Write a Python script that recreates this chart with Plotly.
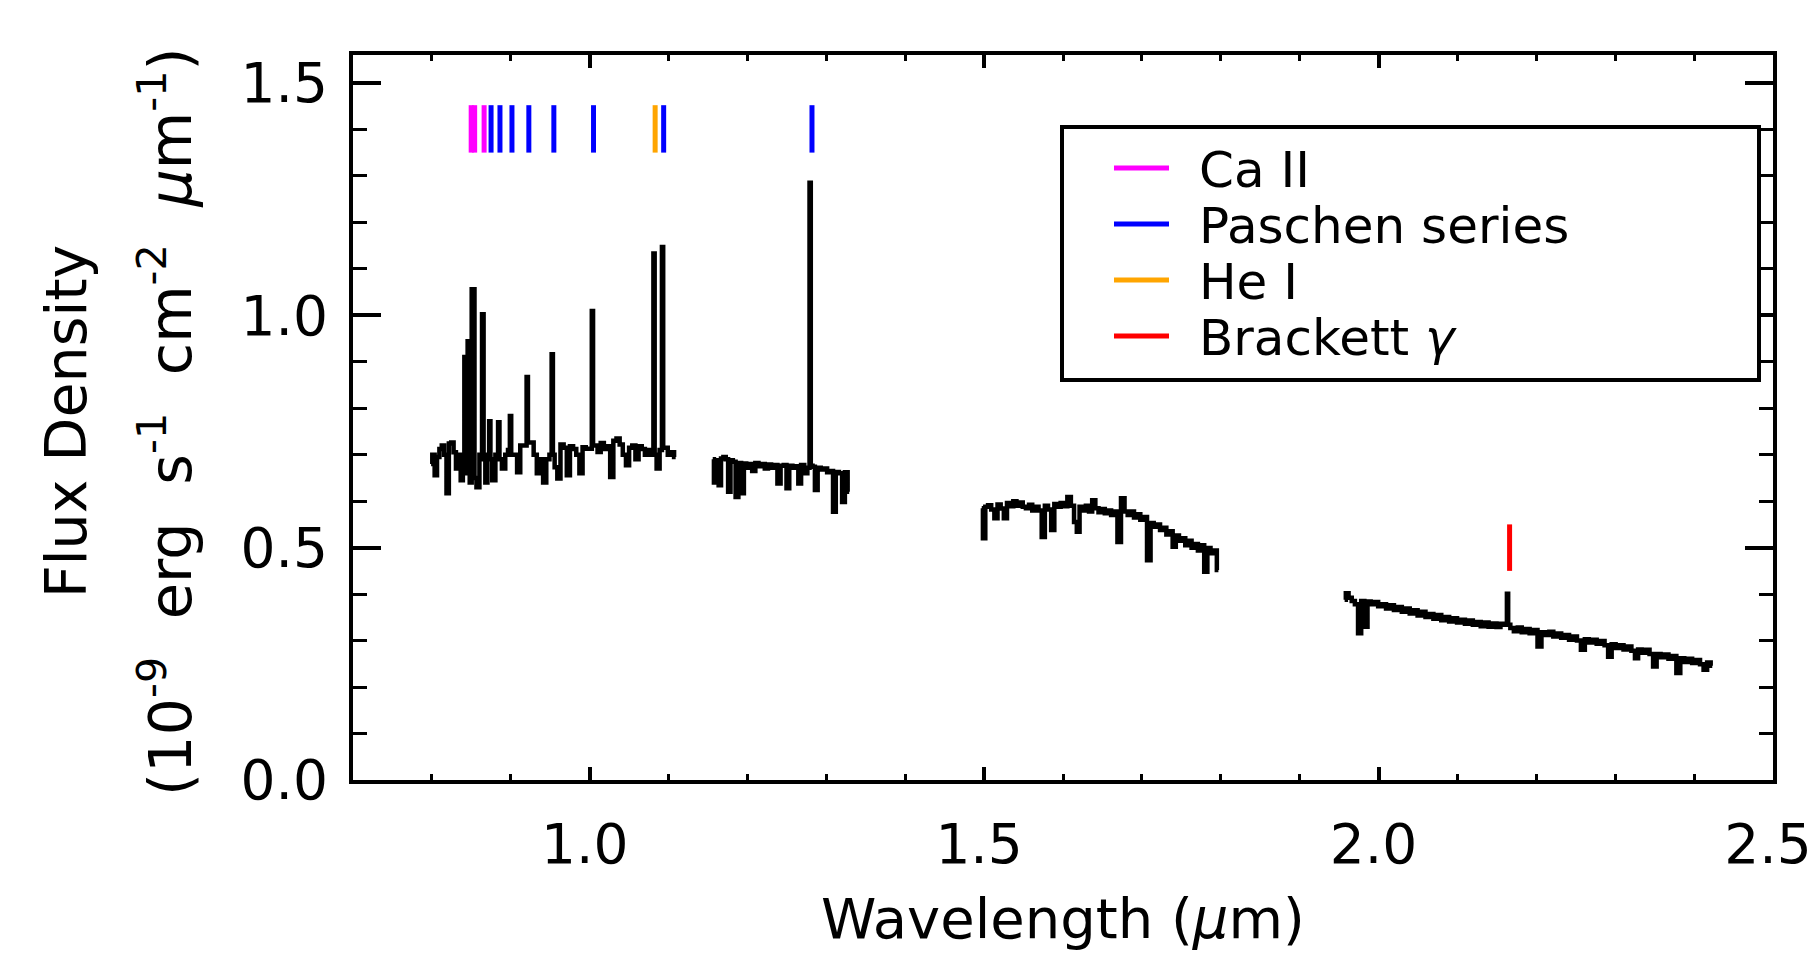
import plotly.graph_objects as go

# ---------------- data ----------------
# Spectrum segment 1 (0.80-1.11 um)
seg1_wl = [0.799, 0.802, 0.805, 0.808, 0.811, 0.814, 0.817, 0.820, 0.823, 0.826,
           0.829, 0.832, 0.835, 0.838, 0.8405, 0.8418, 0.8441, 0.8465, 0.8494, 0.8515,
           0.8530, 0.8550, 0.858, 0.8625, 0.8646, 0.8665, 0.869, 0.8718, 0.8734, 0.8750,
           0.878, 0.8830, 0.8848, 0.8865, 0.891, 0.895, 0.8980, 0.8997, 0.9014, 0.906,
           0.910, 0.914, 0.9192, 0.9209, 0.9226, 0.927, 0.931, 0.935, 0.939, 0.943,
           0.947, 0.9510, 0.9526, 0.9542, 0.957, 0.961, 0.965, 0.969, 0.973, 0.977,
           0.981, 0.985, 0.989, 0.993, 0.997, 1.0019, 1.0035, 1.0051, 1.008, 1.012,
           1.016, 1.020, 1.024, 1.028, 1.032, 1.036, 1.040, 1.044, 1.048, 1.052,
           1.056, 1.060, 1.064, 1.068, 1.072, 1.076, 1.0800, 1.0816, 1.0832, 1.0865,
           1.0908, 1.0924, 1.0940, 1.097, 1.101, 1.105, 1.109]
seg1_flux = [0.680, 0.700, 0.656, 0.695, 0.712, 0.720, 0.700, 0.617, 0.724, 0.726,
             0.705, 0.670, 0.700, 0.645, 0.680, 0.910, 0.660, 0.944, 0.640, 1.056,
             1.056, 0.650, 0.630, 0.700, 1.002, 0.690, 0.640, 0.700, 0.772, 0.690,
             0.645, 0.700, 0.770, 0.690, 0.670, 0.700, 0.710, 0.783, 0.700, 0.700,
             0.662, 0.720, 0.720, 0.867, 0.726, 0.726, 0.700, 0.660, 0.690, 0.640,
             0.690, 0.700, 0.916, 0.700, 0.673, 0.649, 0.722, 0.715, 0.656, 0.718,
             0.712, 0.700, 0.660, 0.716, 0.713, 0.713, 1.009, 0.720, 0.720, 0.706,
             0.725, 0.712, 0.718, 0.652, 0.730, 0.735, 0.722, 0.700, 0.677, 0.715,
             0.720, 0.690, 0.718, 0.712, 0.700, 0.710, 0.700, 1.133, 0.700, 0.670,
             0.710, 1.147, 0.715, 0.715, 0.700, 0.705, 0.695]

# Spectrum segment 2 (1.16-1.33 um)
seg2_wl = [1.156, 1.159, 1.162, 1.165, 1.168, 1.171, 1.174, 1.177, 1.180, 1.183,
           1.187, 1.190, 1.194, 1.197, 1.200, 1.204, 1.208, 1.212, 1.216, 1.220,
           1.224, 1.228, 1.232, 1.236, 1.240, 1.244, 1.248, 1.251, 1.255, 1.259,
           1.263, 1.266, 1.270, 1.274, 1.2779, 1.2795, 1.2811, 1.284, 1.287, 1.291,
           1.295, 1.299, 1.303, 1.307, 1.310, 1.314, 1.318, 1.322, 1.325, 1.329]
seg2_flux = [0.690, 0.640, 0.688, 0.634, 0.692, 0.695, 0.690, 0.620, 0.688, 0.685,
             0.609, 0.682, 0.617, 0.681, 0.672, 0.680, 0.665, 0.682, 0.675, 0.680,
             0.670, 0.679, 0.672, 0.678, 0.638, 0.676, 0.678, 0.628, 0.676, 0.672,
             0.675, 0.638, 0.678, 0.660, 0.672, 1.285, 0.676, 0.674, 0.624, 0.672,
             0.668, 0.670, 0.662, 0.665, 0.577, 0.663, 0.660, 0.598, 0.662, 0.620]

# Spectrum segment 3 (1.50-1.80 um)
seg3_wl = [1.497, 1.500, 1.503, 1.507, 1.511, 1.515, 1.519, 1.523, 1.527, 1.531,
           1.535, 1.539, 1.543, 1.547, 1.551, 1.555, 1.559, 1.563, 1.567, 1.571,
           1.575, 1.579, 1.583, 1.587, 1.591, 1.595, 1.599, 1.603, 1.608, 1.612,
           1.616, 1.619, 1.623, 1.627, 1.631, 1.635, 1.639, 1.643, 1.647, 1.651,
           1.655, 1.659, 1.663, 1.667, 1.671, 1.676, 1.680, 1.684, 1.688, 1.692,
           1.696, 1.700, 1.704, 1.709, 1.713, 1.717, 1.721, 1.725, 1.729, 1.733,
           1.737, 1.741, 1.745, 1.749, 1.753, 1.757, 1.761, 1.765, 1.769, 1.773,
           1.777, 1.781, 1.785, 1.789, 1.793, 1.797]
seg3_flux = [0.585, 0.520, 0.588, 0.591, 0.582, 0.563, 0.593, 0.584, 0.563, 0.596,
             0.589, 0.600, 0.590, 0.597, 0.588, 0.585, 0.592, 0.580, 0.588, 0.580,
             0.523, 0.590, 0.582, 0.538, 0.594, 0.588, 0.596, 0.589, 0.609, 0.590,
             0.555, 0.534, 0.588, 0.580, 0.590, 0.578, 0.602, 0.585, 0.576, 0.583,
             0.574, 0.580, 0.570, 0.578, 0.512, 0.606, 0.578, 0.570, 0.578, 0.565,
             0.572, 0.560, 0.566, 0.473, 0.553, 0.545, 0.550, 0.538, 0.543, 0.528,
             0.535, 0.502, 0.526, 0.515, 0.520, 0.505, 0.515, 0.500, 0.508, 0.494,
             0.505, 0.448, 0.499, 0.488, 0.494, 0.452]

# Spectrum segment 4 (1.96-2.42 um)
seg4_wl = [1.957, 1.960, 1.964, 1.968, 1.972, 1.976, 1.980, 1.984, 1.988, 1.992,
           1.997, 2.002, 2.007, 2.012, 2.017, 2.022, 2.027, 2.032, 2.037, 2.042,
           2.047, 2.052, 2.057, 2.062, 2.067, 2.072, 2.077, 2.082, 2.087, 2.092,
           2.097, 2.102, 2.107, 2.112, 2.117, 2.122, 2.127, 2.132, 2.137, 2.142,
           2.147, 2.152, 2.157, 2.1619, 2.1635, 2.1651, 2.169, 2.174, 2.179, 2.184,
           2.189, 2.194, 2.199, 2.204, 2.209, 2.214, 2.219, 2.224, 2.229, 2.234,
           2.239, 2.244, 2.249, 2.254, 2.259, 2.264, 2.269, 2.274, 2.279, 2.284,
           2.289, 2.293, 2.298, 2.303, 2.308, 2.313, 2.318, 2.323, 2.327, 2.331,
           2.336, 2.341, 2.346, 2.350, 2.355, 2.360, 2.365, 2.370, 2.375, 2.380,
           2.385, 2.390, 2.395, 2.400, 2.405, 2.410, 2.414, 2.419, 2.423]
seg4_flux = [0.388, 0.402, 0.392, 0.385, 0.378, 0.316, 0.385, 0.330, 0.384, 0.378,
             0.383, 0.374, 0.378, 0.369, 0.376, 0.366, 0.372, 0.362, 0.369, 0.358,
             0.365, 0.354, 0.362, 0.351, 0.357, 0.347, 0.355, 0.344, 0.351, 0.341,
             0.348, 0.339, 0.345, 0.336, 0.343, 0.334, 0.340, 0.331, 0.339, 0.330,
             0.337, 0.329, 0.336, 0.334, 0.401, 0.334, 0.327, 0.320, 0.328, 0.318,
             0.325, 0.316, 0.323, 0.287, 0.318, 0.312, 0.319, 0.309, 0.315, 0.306,
             0.312, 0.302, 0.309, 0.300, 0.280, 0.303, 0.296, 0.302, 0.293, 0.299,
             0.290, 0.265, 0.292, 0.284, 0.290, 0.281, 0.287, 0.278, 0.262, 0.281,
             0.274, 0.280, 0.271, 0.244, 0.271, 0.264, 0.270, 0.261, 0.267, 0.230,
             0.262, 0.254, 0.261, 0.252, 0.258, 0.249, 0.237, 0.253, 0.246]

# Line identifications (wavelengths in um) and marker extents
ca2_wl = [0.8498, 0.8542, 0.8662]
paschen_wl = [0.8750, 0.8863, 0.9015, 0.9229, 0.9546, 1.0049, 1.0938, 1.2818]
hei_wl = [1.0830]
brg_wl = [2.1661]
top_marker_y = [1.35, 1.452]
brg_marker_y = [0.45, 0.55]

legend_names = ["Ca II", "Paschen series", "He I", "Brackett <i>\u03b3</i>"]
legend_colors = ["#ff00ff", "#0000ff", "#ffa500", "#ff0000"]

x_range = [0.7, 2.5]
y_range = [0.0, 1.56]
x_ticks = [1.0, 1.5, 2.0, 2.5]
y_ticks = [0.0, 0.5, 1.0, 1.5]

FONT = "DejaVu Sans"

# ---------------- figure ----------------
fig = go.Figure()

for wl, fl in [(seg1_wl, seg1_flux), (seg2_wl, seg2_flux),
               (seg3_wl, seg3_flux), (seg4_wl, seg4_flux)]:
    fig.add_trace(go.Scatter(x=wl, y=fl, mode="lines",
                             line=dict(color="black", width=4.5, shape="hvh"),
                             showlegend=False, hoverinfo="skip"))


def marker_trace(wls, ys, color, name):
    xs, yv = [], []
    for w in wls:
        xs += [w, w, None]
        yv += [ys[0], ys[1], None]
    return go.Scatter(x=xs, y=yv, mode="lines", name=name,
                      line=dict(color=color, width=5), showlegend=False)


fig.add_trace(marker_trace(ca2_wl, top_marker_y, legend_colors[0], legend_names[0]))
fig.add_trace(marker_trace(paschen_wl, top_marker_y, legend_colors[1], legend_names[1]))
fig.add_trace(marker_trace(hei_wl, top_marker_y, legend_colors[2], legend_names[2]))
fig.add_trace(marker_trace(brg_wl, brg_marker_y, legend_colors[3], legend_names[3]))

# ---- legend box drawn in paper coordinates ----
L, R, T, B = 353, 41, 55, 174
W, H = 1814, 954
pw, ph = W - L - R, H - T - B


def px(xp):
    return (xp - L) / pw


def py(yp):
    return (H - B - yp) / ph


shapes = [dict(type="rect", xref="paper", yref="paper",
               x0=px(1062), x1=px(1759), y0=py(380), y1=py(127),
               line=dict(color="black", width=4), fillcolor="white", layer="above")]
annotations = []
row_y = [168, 224, 280, 336]
for name, col, ry in zip(legend_names, legend_colors, row_y):
    shapes.append(dict(type="line", xref="paper", yref="paper",
                       x0=px(1114), x1=px(1169), y0=py(ry), y1=py(ry),
                       line=dict(color=col, width=5), layer="above"))
    annotations.append(dict(text=name, xref="paper", yref="paper",
                            x=px(1198), y=py(ry + 2), xanchor="left", yanchor="middle",
                            borderpad=0,
                            showarrow=False, font=dict(family=FONT, size=50, color="black")))

# axis titles
annotations.append(dict(text="Wavelength (<i>\u03bc</i>m)", xref="paper", yref="paper",
                        x=0.5, y=py(919), xanchor="center", yanchor="middle",
                        showarrow=False, font=dict(family=FONT, size=56, color="black")))
annotations.append(dict(text="Flux Density", xref="paper", yref="paper",
                        x=px(66), y=py(422), xanchor="center", yanchor="middle",
                        textangle=-90, showarrow=False,
                        font=dict(family=FONT, size=57, color="black")))
annotations.append(dict(text="(10<sup>-9</sup>  erg  s<sup>-1</sup>  cm<sup>-2</sup>  <i>\u03bc</i>m<sup>-1</sup>)",
                        xref="paper", yref="paper",
                        x=px(166), y=py(422), xanchor="center", yanchor="middle",
                        textangle=-90, showarrow=False,
                        font=dict(family=FONT, size=59, color="black")))

axis_common = dict(showline=True, linecolor="black", linewidth=4, mirror="allticks",
                   ticks="inside", tickcolor="black", tickwidth=3.5,
                   showgrid=False, zeroline=False, tickformat=".1f",
                   ticklabeloverflow="allow", automargin=False,
                   tickfont=dict(family=FONT, size=55, color="black"))

fig.update_layout(
    width=W, height=H,
    margin=dict(l=L, r=R, t=T, b=B, pad=0, autoexpand=False),
    paper_bgcolor="white", plot_bgcolor="white",
    showlegend=False,
    xaxis=dict(range=x_range, tickvals=x_ticks, ticklen=13,
               ticklabelstandoff=13, ticklabelshift=-5,
               minor=dict(dtick=0.1, tick0=0.0, ticklen=6, tickwidth=3,
                          ticks="inside", tickcolor="black", showgrid=False),
               **axis_common),
    yaxis=dict(range=y_range, tickvals=y_ticks, ticklen=28,
               ticklabelstandoff=10,
               minor=dict(dtick=0.1, tick0=0.0, ticklen=14, tickwidth=3,
                          ticks="inside", tickcolor="black", showgrid=False),
               **axis_common),
    shapes=shapes,
    annotations=annotations,
)

fig.write_html("out.html")
